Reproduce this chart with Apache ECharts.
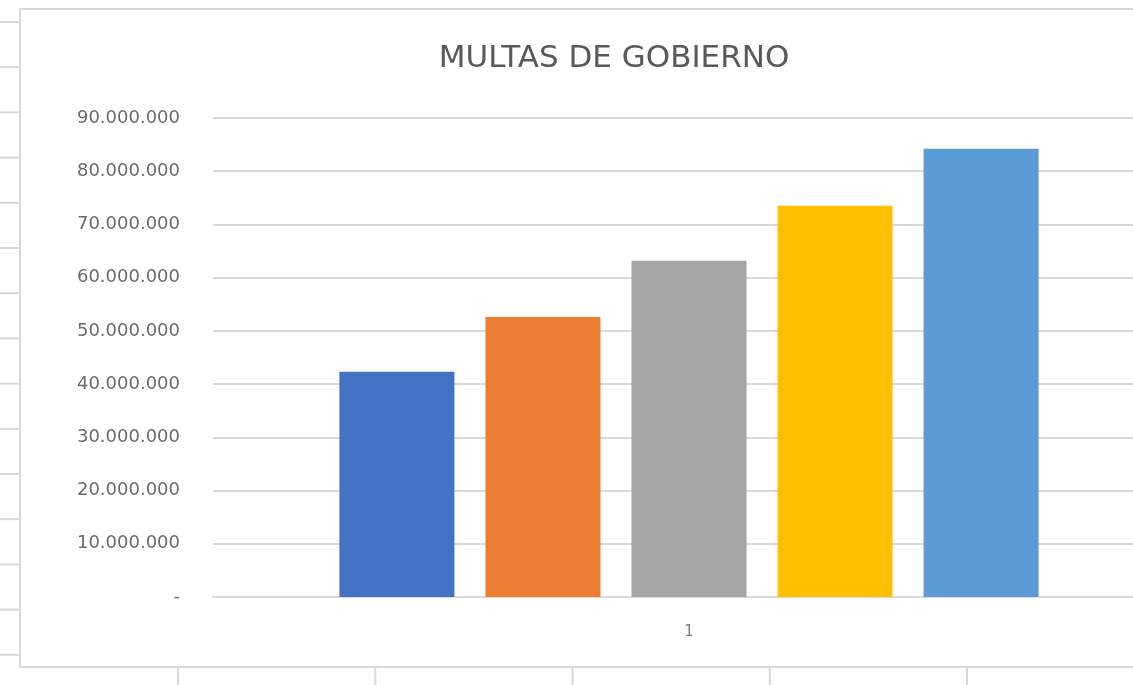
<!DOCTYPE html>
<html>
<head>
<meta charset="utf-8">
<script src="https://cdn.jsdelivr.net/npm/echarts@6/dist/echarts.min.js"></script>
<style>
  html, body { margin: 0; padding: 0; background: #fff; overflow: hidden; }
  /* el grafico original sigue a la derecha de la captura */
  #chart { width: 1165px; height: 685px; }
</style>
</head>
<body>
<div id="chart"></div>
<script>
// datos
const categorias = ['1'];
const seriesNombres = ['Serie1', 'Serie2', 'Serie3', 'Serie4', 'Serie5'];
const valores = [42300000, 52600000, 63200000, 73500000, 84200000];
const colores = ['#4472C4', '#ED7D31', '#A5A5A5', '#FFC000', '#5B9BD5'];
const ejeY = { min: 0, max: 90000000, interval: 10000000 };

const gris = '#d9d9d9';

function formatoMiles(v) {
  if (v === 0) return '-';
  return String(v).replace(/\B(?=(\d{3})+(?!\d))/g, '.');
}

// lineas de la hoja de calculo alrededor del grafico (solo decoracion)
let decor = [];
for (let k = 0; k < 15; k++) {
  let y = 22 + k * 45.2;
  decor.push({ type: 'line', silent: true, z: -1,
    shape: { x1: 0, y1: y, x2: 20, y2: y },
    style: { stroke: gris, lineWidth: 2 } });
}
for (let k = 0; k < 5; k++) {
  let x = 178 + k * 197.25;
  decor.push({ type: 'line', silent: true, z: -1,
    shape: { x1: x, y1: 668, x2: x, y2: 685 },
    style: { stroke: gris, lineWidth: 2 } });
}
// borde del area del grafico
decor.push({ type: 'rect', silent: true, z: -1,
  shape: { x: 20, y: 9, width: 1200, height: 658 },
  style: { fill: null, stroke: gris, lineWidth: 2 } });

let myChart = echarts.init(document.getElementById('chart'));

let option = {
  animation: false,
  backgroundColor: '#fff',
  title: {
    text: 'MULTAS DE GOBIERNO',
    left: 609,
    textAlign: 'center',
    top: 38,
    textStyle: {
      fontFamily: 'DejaVu Sans',
      fontSize: 31,
      fontWeight: 'normal',
      color: '#595959'
    }
  },
  grid: { left: 213, right: 0, top: 118, bottom: 88 },
  xAxis: {
    type: 'category',
    data: categorias,
    axisLine: { lineStyle: { color: gris, width: 2 } },
    axisTick: { show: false },
    axisLabel: {
      margin: 28,
      fontFamily: 'DejaVu Sans',
      fontSize: 15,
      color: '#7f7f7f'
    }
  },
  yAxis: {
    type: 'value',
    min: ejeY.min,
    max: ejeY.max,
    interval: ejeY.interval,
    axisLine: { show: false },
    axisTick: { show: false },
    splitLine: { lineStyle: { color: gris, width: 2 } },
    axisLabel: {
      margin: 33,
      fontFamily: 'DejaVu Sans',
      fontSize: 18,
      color: '#6b6b6b',
      formatter: formatoMiles
    }
  },
  graphic: decor,
  series: seriesNombres.map((nombre, i) => ({
    name: nombre,
    type: 'bar',
    barWidth: 115,
    barGap: '27%',
    itemStyle: { color: colores[i] },
    data: [valores[i]]
  }))
};

myChart.setOption(option);
</script>
</body>
</html>
